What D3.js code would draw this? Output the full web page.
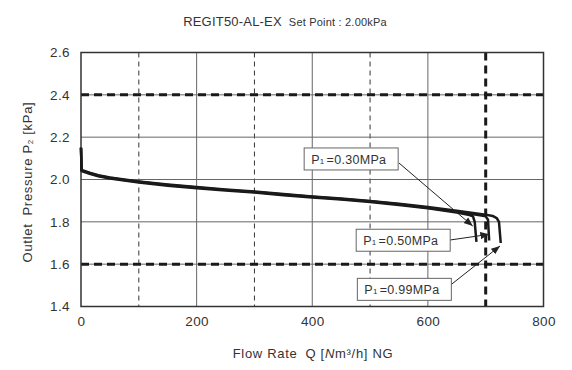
<!DOCTYPE html>
<html>
<head>
<meta charset="utf-8">
<script src="https://cdn.jsdelivr.net/npm/d3@7"></script>
<style>
  body { margin: 0; background: #fff; }
  text { font-family: "Liberation Sans", Arial, sans-serif; fill: #333; }
</style>
</head>
<body>
<script>
// axis ticks and grid values
var xTicks = [0, 200, 400, 600, 800];
var yTicks = [1.4, 1.6, 1.8, 2.0, 2.2, 2.4, 2.6];
var xGridSolid = [200, 400, 600];
var xGridDash = [100, 300, 500];
var xLimit = [700];
var yGridSolid = [1.8, 2.0, 2.2];
var yLimit = [1.6, 2.4];

// flow rate [Nm3/h], outlet pressure [kPa] for each inlet pressure
var p030 = [[0, 2.15], [1, 2.040], [15, 2.027], [30, 2.015], [50, 2.005], [75, 1.995], [100, 1.986],
  [150, 1.971], [200, 1.959], [250, 1.948], [300, 1.938], [350, 1.926], [400, 1.915], [450, 1.905],
  [500, 1.894], [550, 1.880], [600, 1.864], [650, 1.844], [672, 1.832], [678, 1.826], [681, 1.80], [684, 1.705]];
var p050 = [[0, 2.15], [1, 2.043], [15, 2.030], [30, 2.018], [50, 2.008], [75, 1.998], [100, 1.989],
  [150, 1.974], [200, 1.962], [250, 1.951], [300, 1.941], [350, 1.929], [400, 1.918], [450, 1.908],
  [500, 1.897], [550, 1.883], [600, 1.867], [650, 1.848], [690, 1.831], [700, 1.826], [704, 1.81], [706, 1.712]];
var p099 = [[0, 2.15], [1, 2.045], [15, 2.032], [30, 2.020], [50, 2.010], [75, 2.000], [100, 1.991],
  [150, 1.976], [200, 1.964], [250, 1.953], [300, 1.943], [350, 1.931], [400, 1.920], [450, 1.910],
  [500, 1.899], [550, 1.886], [600, 1.870], [650, 1.852], [700, 1.834], [712, 1.828], [719, 1.818], [723, 1.80], [726, 1.700]];

// annotation labels: box top-left, arrow tail, arrow tip (data units)
var labelNames = ["=0.30MPa", "=0.50MPa", "=0.99MPa"];
var labelBox = [[386, 2.149], [476, 1.765], [478, 1.533]];
var arrowFrom = [[550, 2.078], [638, 1.714], [639.5, 1.502]];
var arrowTo = [[677.6, 1.780], [706.3, 1.741], [724.8, 1.686]];

var width = 572;
var height = 370;
var margin = {top: 52.5, right: 28.5, bottom: 63.5, left: 81};

var svg = d3.select("body").append("svg")
    .attr("width", width)
    .attr("height", height);

var x = d3.scaleLinear().domain([0, 800]).range([margin.left, width - margin.right]);
var y = d3.scaleLinear().domain([1.4, 2.6]).range([height - margin.bottom, margin.top]);

svg.append("defs").append("marker")
    .attr("id", "arrow")
    .attr("viewBox", "0 0 10 10")
    .attr("refX", 10).attr("refY", 5)
    .attr("markerWidth", 9).attr("markerHeight", 9)
    .attr("markerUnits", "userSpaceOnUse")
    .attr("orient", "auto")
  .append("path")
    .attr("d", "M0,1 L10,5 L0,9 Z")
    .attr("fill", "#222");

var grid = svg.append("g");

grid.selectAll(".vs").data(xGridSolid).enter().append("line")
    .attr("x1", x).attr("x2", x)
    .attr("y1", y(1.4)).attr("y2", y(2.6))
    .attr("stroke", "#666").attr("stroke-width", 1);

grid.selectAll(".vd").data(xGridDash).enter().append("line")
    .attr("x1", x).attr("x2", x)
    .attr("y1", y(2.6)).attr("y2", y(1.4))
    .attr("stroke", "#333").attr("stroke-width", 1)
    .attr("stroke-dasharray", "5,4");

grid.selectAll(".hs").data(yGridSolid.concat(yLimit)).enter().append("line")
    .attr("x1", x(0)).attr("x2", x(800))
    .attr("y1", y).attr("y2", y)
    .attr("stroke", "#666").attr("stroke-width", 1);

grid.selectAll(".hl").data(yLimit).enter().append("line")
    .attr("x1", x(0)).attr("x2", x(800))
    .attr("y1", y).attr("y2", y)
    .attr("stroke", "#1a1a1a").attr("stroke-width", 3)
    .attr("stroke-dasharray", "8,5");

grid.selectAll(".vl").data(xLimit).enter().append("line")
    .attr("x1", x).attr("x2", x)
    .attr("y1", y(2.6)).attr("y2", y(1.4))
    .attr("stroke", "#1a1a1a").attr("stroke-width", 3)
    .attr("stroke-dasharray", "8,5");

// frame
svg.append("rect")
    .attr("x", x(0)).attr("y", y(2.6))
    .attr("width", x(800) - x(0)).attr("height", y(1.4) - y(2.6))
    .attr("fill", "none").attr("stroke", "#333").attr("stroke-width", 1.5);

// curves
var line = d3.line()
    .x(function(d) { return x(d[0]); })
    .y(function(d) { return y(d[1]); });

svg.selectAll(".curve").data([p030, p050, p099]).enter().append("path")
    .attr("d", line)
    .attr("fill", "none")
    .attr("stroke", "#1a1a1a")
    .attr("stroke-width", 2.5)
    .attr("stroke-linejoin", "round");

// axes labels
var xAxis = d3.axisBottom(x).tickValues(xTicks).tickSize(0).tickPadding(10);
svg.append("g")
    .attr("transform", "translate(0," + y(1.4) + ")")
    .call(xAxis)
    .call(function(g) { g.select(".domain").remove(); })
    .selectAll("text")
    .attr("font-size", 13.5)
    .attr("font-family", null)
    .attr("letter-spacing", 0.4)
    .attr("fill", "#333");

var yAxis = d3.axisLeft(y).tickValues(yTicks).tickSize(0).tickPadding(11)
    .tickFormat(d3.format(".1f"));
svg.append("g")
    .attr("transform", "translate(" + x(0) + ",0)")
    .call(yAxis)
    .call(function(g) { g.select(".domain").remove(); })
    .selectAll("text")
    .attr("font-size", 13.5)
    .attr("font-family", null)
    .attr("letter-spacing", 0.4)
    .attr("fill", "#333");

// title
var title = svg.append("text")
    .attr("x", 285).attr("y", 26)
    .attr("text-anchor", "middle")
    .attr("letter-spacing", 0.2);
title.append("tspan").attr("font-size", 13).text("REGIT50-AL-EX");
title.append("tspan").attr("font-size", 11).attr("dx", 7).text("Set Point : 2.00kPa");

// axis titles
var xt = svg.append("text")
    .attr("x", 313).attr("y", 358)
    .attr("text-anchor", "middle")
    .attr("letter-spacing", 0.7)
    .attr("font-size", 13);
xt.append("tspan").text("Flow Rate");
xt.append("tspan").attr("dx", 8).text("Q [");
xt.append("tspan").attr("font-style", "italic").text("N");
xt.append("tspan").text("m³/h] NG");

var yt = svg.append("text")
    .attr("transform", "translate(32,182) rotate(-90)")
    .attr("text-anchor", "middle")
    .attr("letter-spacing", 0.7)
    .attr("font-size", 13);
yt.append("tspan").text("Outlet");
yt.append("tspan").attr("dx", 8).text("Pressure P");
yt.append("tspan").attr("font-size", 8).attr("dy", 1).text("2");
yt.append("tspan").attr("dy", -1).text(" [kPa]");

// annotations
var ann = svg.selectAll(".ann").data(labelNames).enter().append("g");

ann.append("line")
    .attr("x1", function(d, i) { return x(arrowFrom[i][0]); })
    .attr("y1", function(d, i) { return y(arrowFrom[i][1]); })
    .attr("x2", function(d, i) { return x(arrowTo[i][0]); })
    .attr("y2", function(d, i) { return y(arrowTo[i][1]); })
    .attr("stroke", "#222").attr("stroke-width", 1)
    .attr("marker-end", "url(#arrow)");

ann.append("rect")
    .attr("x", function(d, i) { return x(labelBox[i][0]); })
    .attr("y", function(d, i) { return y(labelBox[i][1]); })
    .attr("width", 94).attr("height", 22)
    .attr("fill", "#fff").attr("stroke", "#666").attr("stroke-width", 1);

var lt = ann.append("text")
    .attr("x", function(d, i) { return x(labelBox[i][0]) + 7; })
    .attr("y", function(d, i) { return y(labelBox[i][1]) + 16; })
    .attr("letter-spacing", 0.3)
    .attr("font-size", 12.5);
lt.append("tspan").text("P");
lt.append("tspan").attr("font-size", 8).text("1");
lt.append("tspan").attr("dx", 2).text(function(d) { return d; });
</script>
</body>
</html>
